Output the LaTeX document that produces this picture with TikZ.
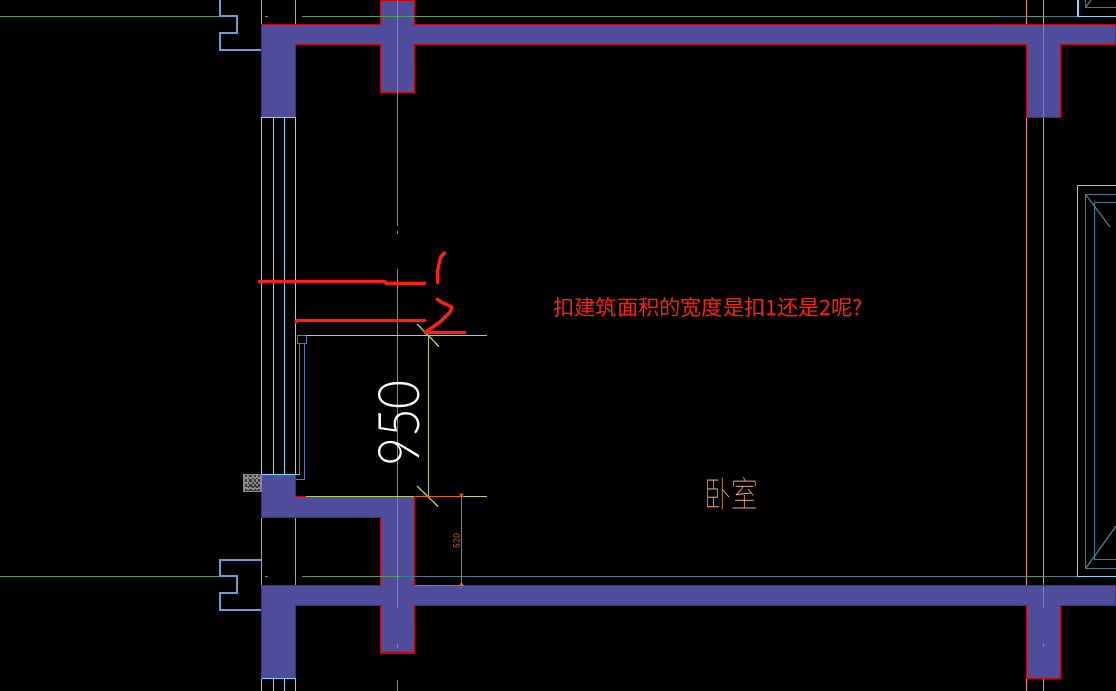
\documentclass[tikz,border=0pt]{standalone}
\usepackage{fontspec}
\newfontfamily\cjk{Noto Sans CJK SC}
\newfontfamily\cjkthin{Noto Sans CJK SC Thin}
\newfontfamily\thinnum{Lato Light}
\definecolor{wallfill}{HTML}{4F4C9B}
\definecolor{wallred}{HTML}{D00008}
\definecolor{pinkl}{HTML}{F08A8A}
\definecolor{greenl}{HTML}{4FA060}
\definecolor{axisl}{HTML}{609F85}
\definecolor{cyanl}{HTML}{80D8FF}
\definecolor{teall}{HTML}{3F7F90}
\definecolor{bluel}{HTML}{6A9FD4}
\definecolor{innerb}{HTML}{6070C4}
\definecolor{yell}{HTML}{B8D060}
\definecolor{orangel}{HTML}{E86010}
\definecolor{roomtxt}{HTML}{F0A868}
\definecolor{mark}{HTML}{FF2010}
\tikzset{
 wall/.style={fill=wallfill,draw=wallred,line width=1.2pt,line join=miter},
 axis/.style={draw=axisl,line width=0.9pt},
 pinkline/.style={draw=pinkl,line width=0.9pt},
 greenline/.style={draw=greenl,line width=0.9pt},
 tealline/.style={draw=teall,line width=0.9pt},
 cyanline/.style={draw=cyanl,line width=0.9pt},
 stepline/.style={draw=bluel,line width=1.5pt},
 innerline/.style={draw=innerb,line width=0.9pt},
 dimline/.style={draw=yell,line width=0.9pt},
 orangeline/.style={draw=orangel,line width=0.9pt},
 redmark/.style={draw=mark,line width=2.5pt,line cap=round,line join=round},
}
\begin{document}
\begin{tikzpicture}[x=0.75pt,y=-0.75pt]
\useasboundingbox (0,0) rectangle (1116,691);
\fill[black] (0,0) rectangle (1116,691);
% pink grid lines
\draw[pinkline] (261.5,0)--(261.5,25) (295.5,0)--(295.5,25);
\draw[pinkline] (261.5,517)--(261.5,586) (295.5,517)--(295.5,586);
\draw[pinkline] (1026.5,0)--(1026.5,691) (1043.5,0)--(1043.5,691);
% walls
\draw[wall] (261.5,24.5)--(380.5,24.5)--(380.5,0)--(414.5,0)--(414.5,24.5)--(1116,24.5)--(1116,44.5)--(1060.5,44.5)--(1060.5,117.5)--(1026.5,117.5)--(1026.5,44.5)--(414.5,44.5)--(414.5,92.5)--(380.5,92.5)--(380.5,44.5)--(295.5,44.5)--(295.5,117.5)--(261.5,117.5)--cycle;
\draw[wall] (261.5,474.5)--(295.5,474.5)--(295.5,496.5)--(414.5,496.5)--(414.5,585.5)--(1116,585.5)--(1116,605.5)--(1060.5,605.5)--(1060.5,678.5)--(1026.5,678.5)--(1026.5,605.5)--(414.5,605.5)--(414.5,653)--(380.5,653)--(380.5,605.5)--(295.5,605.5)--(295.5,678.5)--(261.5,678.5)--(261.5,585.5)--(380.5,585.5)--(380.5,517.5)--(261.5,517.5)--cycle;
% horizontal axes
\draw[greenline] (0,16.5)--(219,16.5) (265,16.5)--(268,16.5) (302,16.5)--(1000,16.5);
\draw[tealline] (1000,16.5)--(1026,16.5) (1044,16.5)--(1078,16.5);
\draw[greenline] (1026,16.5)--(1044,16.5);
\draw[greenline] (0,576.5)--(219,576.5) (265,576.5)--(268,576.5) (302,576.5)--(400,576.5);
\draw[tealline] (400,576.5)--(1026,576.5) (1044,576.5)--(1078,576.5);
\draw[greenline] (1026,576.5)--(1044,576.5);
% vertical axes
\draw[axis] (397.5,0)--(397.5,226) (397.5,231)--(397.5,234) (397.5,269)--(397.5,608) (397.5,644)--(397.5,648) (397.5,680)--(397.5,691);
\draw[axis] (1043.5,24.5)--(1043.5,117) (1043.5,586)--(1043.5,608) (1043.5,643)--(1043.5,647);
% stepped outline at the left
\draw[stepline] (220,0)--(220,16)--(237,16)--(237,33)--(220,33)--(220,50)--(261,50);
\draw[stepline] (261,560)--(220,560)--(220,576)--(237,576)--(237,593)--(220,593)--(220,610)--(261,610);
% window lines
\draw[cyanline] (261.5,117.5)--(295.5,117.5);
\foreach \wx in {261.5,273.5,284.5,295.5}{
 \draw[cyanline] (\wx,117.5)--(\wx,474.5);
 \draw[cyanline] (\wx,678.5)--(\wx,691);
}
\draw[cyanline] (261.5,474.5)--(299.5,474.5) (261.5,678.5)--(295.5,678.5);
% inner frame
\draw[innerline,line width=1.2pt] (297.5,335.5) rectangle (306.5,343.5);
\draw[innerline] (299.5,343.5)--(299.5,474.5);
\draw[innerline] (304.5,343.5)--(304.5,479.5)--(295.5,479.5);
% hatch patch
\fill[gray!45!black] (244,474.5) rectangle (261,491.5);
\draw[gray!90,line width=1pt] (244,474.5) rectangle (261,491.5);
\foreach \hy in {478,483,488}{\draw[gray!90,line width=0.8pt,dash pattern=on 2pt off 1.2pt] (245,\hy)--(261,\hy);}
\foreach \hx in {248,253,257}{\draw[gray!90,line width=0.8pt,dash pattern=on 2pt off 1.2pt] (\hx,475)--(\hx,491);}
% dimension 950
\draw[dimline] (306,335.5)--(487,335.5);
\draw[dimline] (306,496.5)--(414,496.5) (461,496.5)--(487,496.5);
\draw[dimline] (428.5,335.5)--(428.5,496.5);
\draw[dimline] (417,324)--(439,346.5);
\draw[dimline] (417,486)--(438,506.5);
\node[text=white,rotate=90,xscale=0.87,inner sep=0pt,font=\thinnum\fontsize{43}{43}\selectfont] (dimnine) at (399,423.5) {950};
% dimension 520
\draw[orangeline] (414.5,496.5)--(464,496.5);
\draw[orangeline] (414.5,585.5)--(464,585.5);
\draw[orangeline] (461.5,494)--(461.5,587.5);
\fill[orangel] (459,493.5)--(463.5,493.5)--(461.5,497)--cycle (459,585.5)--(463.5,585.5)--(461.5,582)--cycle;
\node[text=orangel,rotate=90,inner sep=0pt,font=\sffamily\fontsize{7}{7}\selectfont] (dimfive) at (456.5,541) {520};
% window at the right
\draw[cyanline] (1078,0)--(1078,16.5)--(1116,16.5);
\draw[tealline] (1085.5,0)--(1085.5,7.5)--(1116,7.5);
\draw[tealline] (1085.5,7.5)--(1091,0);
\draw[cyanline] (1116,185.5)--(1077.5,185.5)--(1077.5,576.5)--(1116,576.5);
\draw[tealline] (1116,194.5)--(1085.5,194.5)--(1085.5,568.5)--(1116,568.5);
\draw[tealline] (1116,202.5)--(1094.5,202.5)--(1094.5,559.5)--(1116,559.5);
\draw[tealline] (1086,195)--(1110,227);
\draw[tealline] (1086,568)--(1116,526);
% red annotation strokes
\draw[redmark] (259,281.5)--(385,281.5)--(386,283.3)--(425,283.3);
\draw[redmark] (296,322)--(296.5,320.5)--(425,320.5);
\draw[redmark] (445,252.5)--(440.5,257)--(438.5,266)--(437.5,272)--(437.5,283);
\draw[redmark] (437,299)--(442,302.5)--(447,304.5)--(452,307)--(450,312)--(440,322)--(432,327.5)--(425,332.5)--(465,332.5);
% texts
\node[text=mark,inner sep=0pt,font=\cjk\fontsize{15.9}{16}\selectfont] (question) at (708,307) {扣建筑面积的宽度是扣1还是2呢?};
\node[text=roomtxt,inner sep=0pt,font=\cjkthin\fontsize{20}{20}\selectfont,yscale=1.35] (room) at (731.5,493.5) {卧室};
\end{tikzpicture}
\end{document}
